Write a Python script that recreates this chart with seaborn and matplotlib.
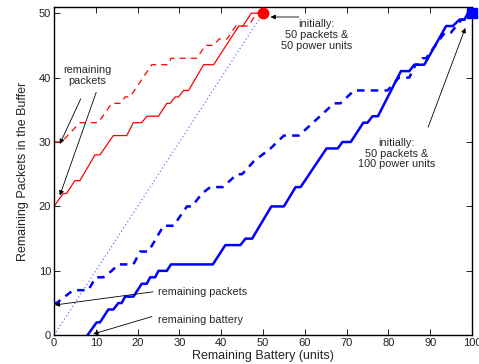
import matplotlib
matplotlib.use("Agg")
import matplotlib.pyplot as plt
import seaborn as sns
import pandas as pd

# ---- data ----
red_solid_x = [0, 2.2, 3, 5, 6.2, 9.8, 11, 14.2, 17.4, 19, 21, 22.2, 25, 27, 27.8, 29, 29.8,
               31, 32.2, 35.8, 38.2, 44.2, 45.2, 47.2, 50]
red_solid_y = [20, 22, 22, 24, 24, 28, 28, 31, 31, 33, 33, 34, 34, 36, 36, 37, 37,
               38, 38, 42, 42, 48, 48, 50, 50]

red_dash_x = [0, 1.8, 6.2, 10.6, 13.8, 16, 17, 18.2, 23.4, 27.3, 28, 34.2, 36.2, 38.2,
              39.5, 41.4, 43.5, 46.5, 48.5, 50]
red_dash_y = [30, 30, 33, 33, 36, 36, 37, 37, 42, 42, 43, 43, 45, 45,
              46, 46, 48, 48, 50, 50]

blue_solid_x = [8, 10.2, 11, 13, 14.2, 15.4, 16.2, 17, 19, 21, 22.2, 23, 24.2, 25, 27, 28,
                38, 41, 44.6, 45.8, 47.4, 52, 55, 57.8, 59, 65.2, 67.9, 69, 71, 74, 75,
                76.2, 77.5, 83, 85, 86.2, 88.6, 93.8, 95.4, 97, 98.2, 99, 100]
blue_solid_y = [0, 2, 2, 4, 4, 5, 5, 6, 6, 8, 8, 9, 9, 10, 10, 11,
                11, 14, 14, 15, 15, 20, 20, 23, 23, 29, 29, 30, 30, 33, 33,
                34, 34, 41, 41, 42, 42, 48, 48, 49, 49, 50, 50]

blue_dash_x = [0, 0.6, 4.6, 8.2, 10, 11.8, 13.8, 15.4, 19, 20.6, 22.6, 26.2, 28.6, 31.8,
               33, 35.4, 37.4, 40.4, 43.8, 45, 47.8, 51.8, 55, 58.6, 67, 68.5, 71.8,
               79.8, 82.5, 85, 86.5, 87.2, 88.2, 89, 93.5, 95, 96.2, 97.5, 98.5, 99.3, 100]
blue_dash_y = [5, 5, 7, 7, 9, 9, 10, 11, 11, 13, 13, 17, 17, 20,
               20, 22, 23, 23, 25, 25, 27, 29, 31, 31, 36, 36, 38,
               38, 40, 40, 42, 42, 43, 43, 47, 47, 48, 49, 49, 50, 50]

diag_x = [0, 50]
diag_y = [0, 50]

x_ticks = [0, 10, 20, 30, 40, 50, 60, 70, 80, 90, 100]
y_ticks = [0, 10, 20, 30, 40, 50]

# ---- style ----
sns.set_style("ticks")
plt.rcParams["font.family"] = ["Liberation Sans", "DejaVu Sans"]
plt.rcParams["xtick.direction"] = "in"
plt.rcParams["ytick.direction"] = "in"

fig = plt.figure(figsize=(4.79, 3.64), dpi=100)
ax = fig.add_axes([0.1127, 0.0789, 0.8727, 0.9027])

RED = "#ff0000"
BLUE = "#0000ff"

def draw(xs, ys, **kw):
    df = pd.DataFrame({"x": xs, "y": ys})
    sns.lineplot(data=df, x="x", y="y", sort=False, estimator=None, ax=ax, **kw)

draw(diag_x, diag_y, color="#7070ff", linewidth=0.9, linestyle=(0, (1, 2)))
draw(red_solid_x, red_solid_y, color=RED, linewidth=0.9)
draw(red_dash_x, red_dash_y, color=RED, linewidth=0.9, linestyle=(0, (5, 4)))
draw(blue_solid_x, blue_solid_y, color=BLUE, linewidth=1.8)
draw(blue_dash_x, blue_dash_y, color=BLUE, linewidth=1.8, linestyle=(0, (3, 2.5)))

ax.plot([50], [50], "o", color=RED, markersize=7.5, clip_on=False, zorder=5)
ax.plot([100], [50], "s", color=BLUE, markersize=6.5, clip_on=False, zorder=5)

ax.set_xlim(0, 100)
ax.set_ylim(0, 51)
ax.set_xticks(x_ticks)
ax.set_yticks(y_ticks)
ax.tick_params(axis="both", which="both", labelsize=8, length=4, width=0.7,
               top=True, right=True, colors="#222222", pad=2)
for s in ax.spines.values():
    s.set_linewidth(1.0)
    s.set_color("black")
    s.set_visible(True)

ax.set_xlabel("Remaining Battery (units)", fontsize=9, labelpad=1.5)
ax.set_ylabel("Remaining Packets in the Buffer", fontsize=9, labelpad=7)

arrow = dict(arrowstyle="-|>", color="black", lw=0.6, mutation_scale=7,
             shrinkA=0, shrinkB=0)
fs = 7.8
ax.text(7.9, 40.3, "remaining\npackets", ha="center", va="center", fontsize=fs,
        linespacing=1.1)
ax.annotate("", xy=(1.4, 29.7), xytext=(6.4, 36.7), arrowprops=arrow)
ax.annotate("", xy=(1.4, 21.7), xytext=(10.1, 37.7), arrowprops=arrow)

ax.text(62.8, 46.6, "initially:\n50 packets &\n50 power units", ha="center", va="center",
        fontsize=fs, linespacing=1.1)
ax.annotate("", xy=(51.8, 49.4), xytext=(58.6, 49.4), arrowprops=arrow)

ax.text(82.0, 28.2, "initially:\n50 packets &\n100 power units", ha="center", va="center",
        fontsize=fs, linespacing=1.1)
ax.annotate("", xy=(98.4, 47.7), xytext=(89.5, 32.3), arrowprops=arrow)

ax.text(24.9, 6.75, "remaining packets", ha="left", va="center", fontsize=fs)
ax.annotate("", xy=(0.2, 4.7), xytext=(23.7, 6.75), arrowprops=arrow)
ax.text(24.9, 2.4, "remaining battery", ha="left", va="center", fontsize=fs)
ax.annotate("", xy=(9.4, 0.2), xytext=(23.4, 2.9), arrowprops=arrow)

fig.savefig("out.png", dpi=100)
